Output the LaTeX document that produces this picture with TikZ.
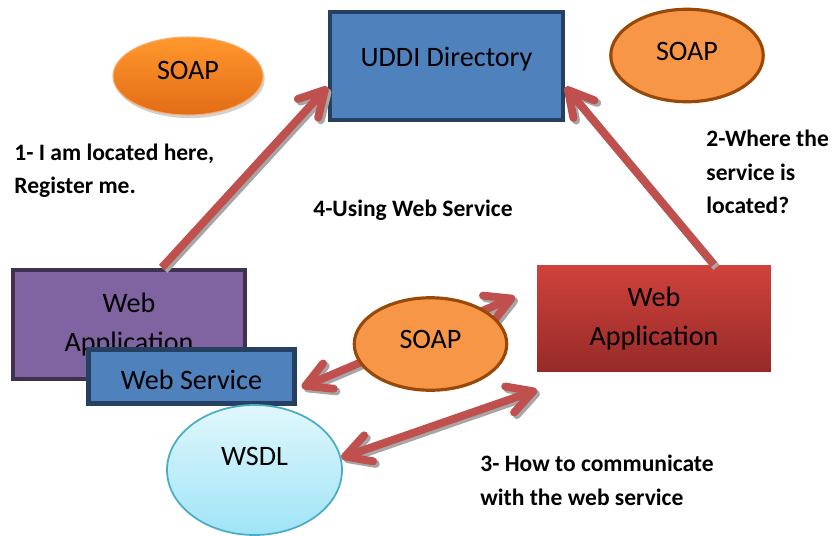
\documentclass[tikz,border=0pt]{standalone}
\usepackage{fontspec}
\setmainfont{Carlito}
\usetikzlibrary{arrows.meta,shapes.geometric,shadows}

\definecolor{boxblue}{RGB}{79,129,189}
\definecolor{boxnavy}{RGB}{37,64,97}
\definecolor{apppurple}{RGB}{128,100,162}
\definecolor{appplum}{RGB}{63,49,81}
\definecolor{soaporange}{RGB}{247,150,70}
\definecolor{soapbrown}{RGB}{152,72,7}
\definecolor{soaplight}{RGB}{255,152,45}
\definecolor{soapdark}{RGB}{226,108,22}
\definecolor{arrowred}{RGB}{192,80,77}
\definecolor{apptop}{RGB}{208,66,60}
\definecolor{appbot}{RGB}{150,42,40}
\definecolor{wsdltop}{RGB}{224,247,252}
\definecolor{wsdlbot}{RGB}{160,228,247}
\definecolor{wsdlline}{RGB}{75,172,198}

\begin{document}
\begin{tikzpicture}[x=0.02cm,y=-0.02cm,
  boxtext/.style={font=\fontsize{16}{22.7}\selectfont, align=center, inner sep=0pt},
  bluebox/.style={boxtext, rectangle, draw=boxnavy, line width=2.8pt, fill=boxblue},
  purplebox/.style={boxtext, rectangle, draw=appplum, line width=2.8pt, fill=apppurple},
  redbox/.style={boxtext, rectangle, top color=apptop, bottom color=appbot},
  soap/.style={boxtext, ellipse, fill=soaporange, draw=soapbrown, line width=1.8pt,
    minimum width=3.05cm, minimum height=1.85cm, text depth=5pt},
  soapglow/.style={boxtext, ellipse, top color=soaplight, bottom color=soapdark,
    draw=soaporange!80, line width=0.6pt, minimum width=3cm, minimum height=1.56cm,
    text depth=6pt, drop shadow={shadow xshift=1pt, shadow yshift=-1.8pt, fill=black!35}},
  wsdl/.style={boxtext, ellipse, top color=wsdltop, bottom color=wsdlbot,
    draw=wsdlline, line width=1pt, minimum width=3.5cm, minimum height=2.6cm, text depth=15pt},
  note/.style={font=\bfseries\fontsize{13.4}{19}\selectfont, align=left, anchor=west, inner sep=0pt},
  link/.style={draw=arrowred, line width=4.5pt},
  linkshade/.style={draw=black!35, line width=4.5pt, transform canvas={xshift=1.5pt, yshift=-1.5pt}},
  >={Straight Barb[length=5mm,width=5.5mm,line cap=round,line join=round]}
]
\useasboundingbox (0,0) rectangle (832,535);
\path
(446.5,66) node[bluebox, minimum width=4.66cm, minimum height=2.16cm, text depth=10pt] (uddi) {UDDI Directory}
(188,76) node[soapglow] (soapa) {SOAP}
(687,55.5) node[soap] (soapb) {SOAP}
(129,324.5) node[purplebox, minimum width=4.64cm, minimum height=2.18cm] (clientapp) {Web\\Application}
(191.5,376.5) node[bluebox, minimum width=4.12cm, minimum height=1.08cm, text height=15pt] (wsvc) {Web Service}
(654,318.5) node[redbox, minimum width=4.68cm, minimum height=2.14cm] (userapp) {Web\\Application}
(254.5,470) node[wsdl] (wsdl) {WSDL}
(515,297) coordinate (soapend)
(537,390) coordinate (wsdlend);
% captions
\path
(14,171) node[note] (regnote) {1- I am located here,\\Register me.}
(706,172) node[note] (findnote) {2-Where the\\service is\\located?}
(313,210) node[note] (usenote) {4-Using Web Service}
(480,480.5) node[note] (hownote) {3- How to communicate\\with the web service};
% grey shade under each arrow, then the arrow itself
\foreach \kind in {linkshade,link}{
  \draw[\kind,->] (clientapp.60) -- (uddi.190.7);
  \draw[\kind,->] (userapp.42) -- (uddi.-10.7);
  \draw[\kind,<->,shorten <=3pt] (wsvc.-7) -- (soapend);
  \draw[\kind,<->] (wsdl.8) -- (wsdlend);
}
% soap message sits over its arrow
\path (430.5,344) node[soap] (soapc) {SOAP};
\end{tikzpicture}
\end{document}
